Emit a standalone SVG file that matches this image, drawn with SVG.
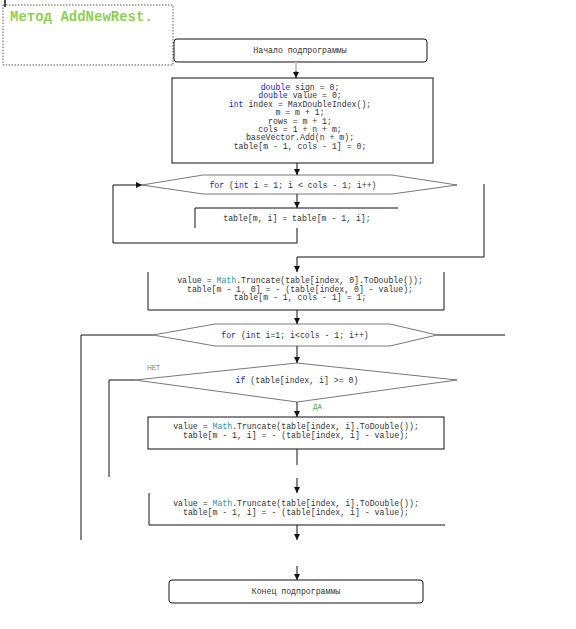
<svg xmlns="http://www.w3.org/2000/svg" width="576" height="629" viewBox="0 0 576 629">
<style>
.code{font-family:"Liberation Mono","Courier New",monospace;font-size:8.2px;fill:#333;text-anchor:middle}
.kw{fill:#1818d0}
.ty{fill:#2b91af}
.box{fill:none;stroke:#111;stroke-width:1}
.shape{fill:none;stroke:#555;stroke-width:0.8}
.conn{fill:none;stroke:#111;stroke-width:1}
.lbl{font-family:"Liberation Sans",Arial,sans-serif;font-size:6.5px;fill:#3a9a3a}
</style>
<defs>
<marker id="ah" markerUnits="userSpaceOnUse" markerWidth="7" markerHeight="7" refX="6" refY="3" orient="auto">
<path d="M0,0 L6,3 L0,6 z" fill="#111"/>
</marker>
</defs>
<rect width="576" height="629" fill="#fff"/>
<g id="title">
<path d="M5,0 V7" stroke="#111" stroke-width="1.5"/>
<rect x="3" y="5" width="170" height="60" fill="none" stroke="#333" stroke-width="0.8" stroke-dasharray="1.5,1.5"/>
<text x="10" y="21" font-family="Liberation Mono,'Courier New',monospace" font-size="14" font-weight="bold" fill="#90d050">Метод AddNewRest.</text>
</g>
<g id="start">
<rect x="174" y="39" width="253" height="23" rx="3" class="box" stroke="#444"/>
<text x="300" y="53" class="code">Начало подпрограммы</text>
</g>
<g id="init">
<rect x="172" y="78" width="261" height="85" class="box"/>
<text class="code" x="300" y="90"><tspan class="kw">double</tspan> sign = 0;</text>
<text class="code" x="300" y="98.4"><tspan class="kw">double</tspan> value = 0;</text>
<text class="code" x="300" y="106.8"><tspan class="kw">int</tspan> index = MaxDoubleIndex();</text>
<text class="code" x="300" y="115.2">m = m + 1;</text>
<text class="code" x="300" y="123.6">rows = m + 1;</text>
<text class="code" x="300" y="132">cols = 1 + n + m;</text>
<text class="code" x="300" y="140.4">baseVector.Add(n + m);</text>
<text class="code" x="300" y="148.8">table[m - 1, cols - 1] = 0;</text>
</g>
<g id="for1">
<polygon points="142,185 203,175 392,175 457,185 392,194 203,194" class="shape"/>
<text class="code" x="293" y="188"><tspan class="kw">for</tspan> (<tspan class="kw">int</tspan> i = 1; i &lt; cols - 1; i++)</text>
</g>
<g id="body1">
<path d="M195,228 V208 H398" class="box"/>
<text class="code" x="297" y="221">table[m, i] = table[m - 1, i];</text>
</g>
<g id="box2">
<path d="M148,272 V310 H444 V272" class="box"/>
<text class="code" x="300" y="283"><tspan>value = </tspan><tspan class="ty">Math</tspan>.Truncate(table[index, 0].ToDouble());</text>
<text class="code" x="300" y="291.5">table[m - 1, 0] = - (table[index, 0] - value);</text>
<text class="code" x="300" y="300">table[m - 1, cols - 1] = 1;</text>
</g>
<g id="for2">
<polygon points="153,335 215,324 390,324 437,335 390,346 215,346" class="shape"/>
<text class="code" x="295" y="338"><tspan class="kw">for</tspan> (<tspan class="kw">int</tspan> i=1; i&lt;cols - 1; i++)</text>
</g>
<g id="if">
<polygon points="135,380 297,363 457,380 297,402" class="shape"/>
<text class="code" x="297" y="383"><tspan class="kw">if</tspan> (table[index, i] &gt;= 0)</text>
</g>
<g id="box3">
<rect x="148" y="417" width="296" height="32" class="box"/>
<text class="code" x="296" y="428.5">value = <tspan class="ty">Math</tspan>.Truncate(table[index, i].ToDouble());</text>
<text class="code" x="296" y="438">table[m - 1, i] = - (table[index, i] - value);</text>
</g>
<g id="box4">
<path d="M149,493 V525 H445" class="box"/>
<text class="code" x="296" y="505.5">value = <tspan class="ty">Math</tspan>.Truncate(table[index, i].ToDouble());</text>
<text class="code" x="296" y="515">table[m - 1, i] = - (table[index, i] - value);</text>
</g>
<g id="end">
<rect x="169" y="580" width="254" height="23" rx="3" class="box" stroke="#444"/>
<text x="296" y="594" class="code">Конец подпрограммы</text>
</g>
<g id="connectors">
<path d="M296,62 V72" stroke="#c8c8c8" stroke-width="2" fill="none"/>
<path d="M296,71 V78" class="conn" marker-end="url(#ah)"/>
<path d="M297,163 V175" class="conn" marker-end="url(#ah)"/>
<path d="M297,194 V208" class="conn" marker-end="url(#ah)"/>
<path d="M297,228 V243 H113 V185 H142" class="conn" marker-end="url(#ah)"/>
<path d="M484,184 V257 H297 V272" class="conn" marker-end="url(#ah)"/>
<path d="M297,310 V324" class="conn" marker-end="url(#ah)"/>
<path d="M297,346 V363" class="conn" marker-end="url(#ah)"/>
<path d="M153,335 H81 V540" class="conn"/>
<path d="M437,335 H505" class="conn"/>
<path d="M135,380 H109 V477" class="conn"/>
<path d="M297,402 V417" class="conn" marker-end="url(#ah)"/>
<path d="M297,449 V465" class="conn"/>
<path d="M297,478 V493" class="conn" marker-end="url(#ah)"/>
<path d="M297,525 V540" class="conn" marker-end="url(#ah)"/>
<path d="M297,566 V580" class="conn" marker-end="url(#ah)"/>
<text x="147" y="370" class="lbl">НЕТ</text>
<text x="313" y="409" class="lbl">ДА</text>
</g>
</svg>
